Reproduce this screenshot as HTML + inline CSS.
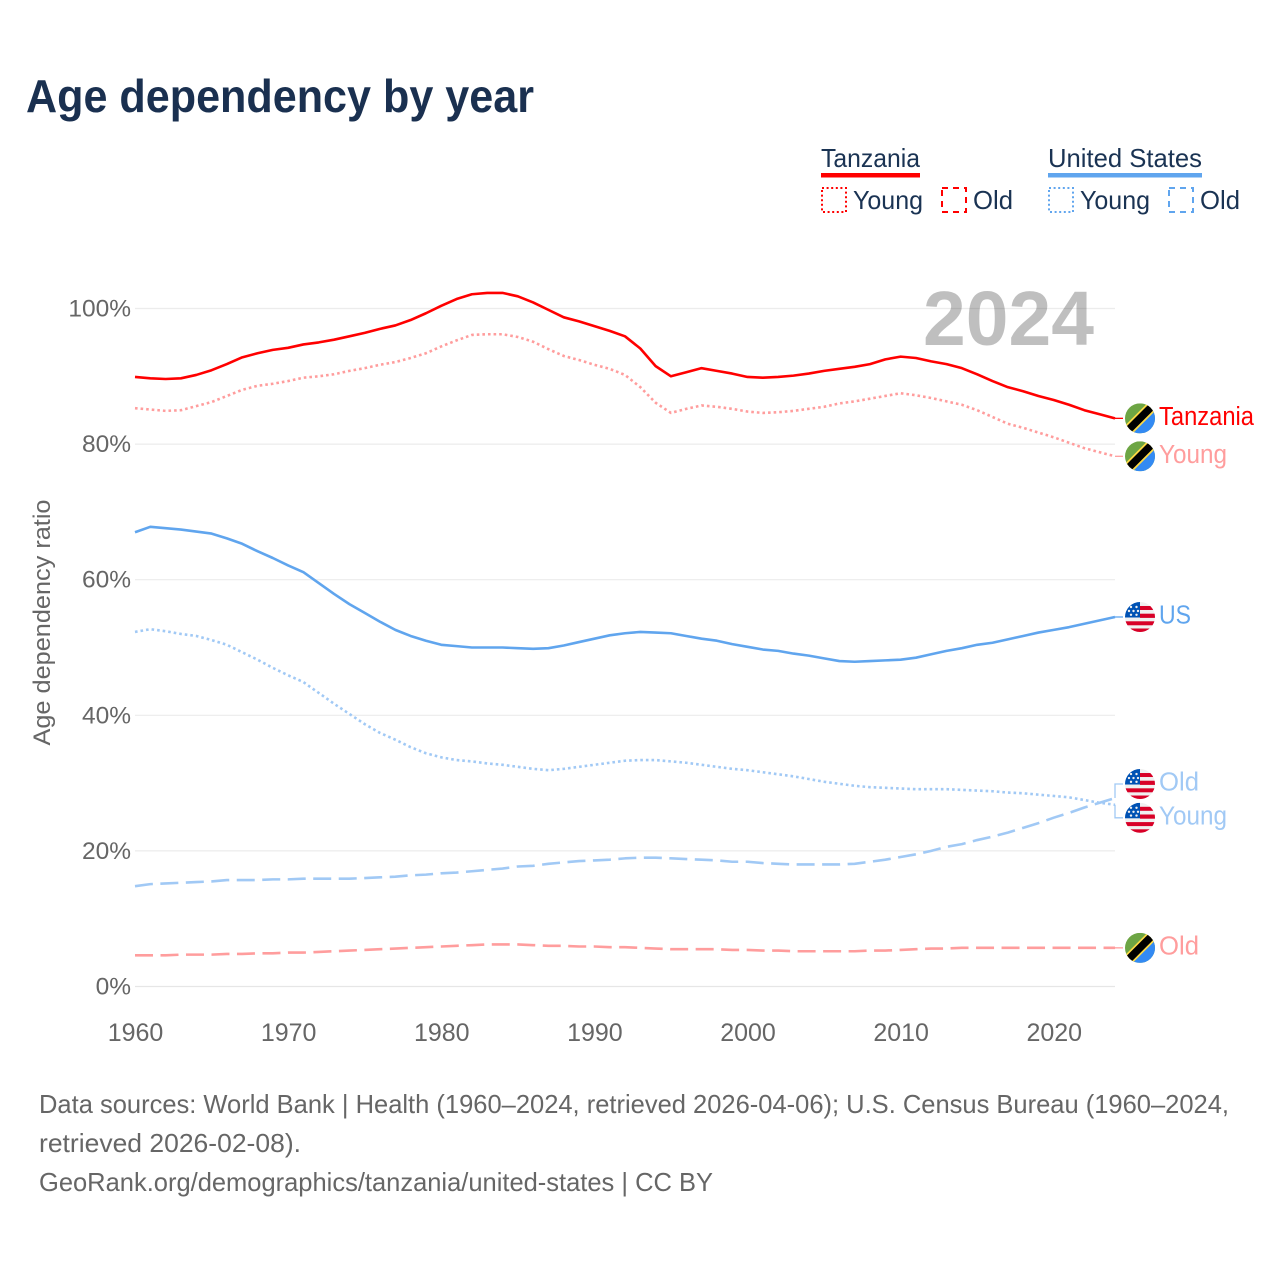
<!DOCTYPE html>
<html lang="en">
<head>
<meta charset="utf-8">
<title>Age dependency by year</title>
<style>
html,body{margin:0;padding:0;background:#fff;}
svg{display:block;font-family:"Liberation Sans",sans-serif;}
</style>
</head>
<body>
<svg id="chart" xmlns="http://www.w3.org/2000/svg" width="1280" height="1280" viewBox="0 0 1280 1280">
<defs>
<clipPath id="flag-clip"><circle cx="0" cy="0" r="15"/></clipPath>
<symbol id="flag-tz" overflow="visible" viewBox="-15 -15 30 30">
<g clip-path="url(#flag-clip)">
<rect x="-15" y="-15" width="30" height="30" fill="#6da544"/>
<polygon points="15,-15 15,15 -15,15" fill="#338af3"/>
<line x1="-15" y1="15" x2="15" y2="-15" stroke="#ffda44" stroke-width="11"/>
<line x1="-15" y1="15" x2="15" y2="-15" stroke="#000" stroke-width="7.5"/>
</g>
</symbol>
<symbol id="flag-us" overflow="visible" viewBox="-15 -15 30 30">
<g clip-path="url(#flag-clip)">
<rect x="-15" y="-15" width="30" height="30" fill="#f0f0f0"/>
<rect x="0" y="-11" width="15" height="4" fill="#d80027"/>
<rect x="0" y="-3.3" width="15" height="4.2" fill="#d80027"/>
<rect x="-15" y="4.3" width="30" height="4" fill="#d80027"/>
<rect x="-15" y="11.5" width="30" height="4" fill="#d80027"/>
<rect x="-15" y="-15" width="15" height="15.5" fill="#0052b4"/>
<g fill="#f0f0f0">
<circle cx="-9" cy="-10" r="1.2"/><circle cx="-3.5" cy="-10" r="1.2"/>
<circle cx="-6.5" cy="-6" r="1.2"/><circle cx="-2" cy="-6" r="1.2"/><circle cx="-11" cy="-6" r="1.2"/>
<circle cx="-9" cy="-2.2" r="1.2"/><circle cx="-3.5" cy="-2.2" r="1.2"/>
</g>
</g>
</symbol>
</defs>

<rect x="0" y="0" width="1280" height="1280" fill="#fff"/>
<text x="26" y="112" font-size="46" font-weight="700" fill="#1a3050" textLength="508" lengthAdjust="spacingAndGlyphs">Age dependency by year</text>

<g fill="#1a3353" font-size="26">
<text x="821" y="167" textLength="99" lengthAdjust="spacingAndGlyphs">Tanzania</text>
<rect x="821" y="173" width="99" height="4.5" fill="#ff0000"/>
<rect x="822" y="188" width="24" height="24" fill="none" stroke="#ff0000" stroke-width="2" stroke-dasharray="2 2.6"/>
<text x="853" y="209" textLength="70" lengthAdjust="spacingAndGlyphs">Young</text>
<rect x="942" y="188" width="24" height="24" fill="none" stroke="#ff0000" stroke-width="2" stroke-dasharray="6 5"/>
<text x="973" y="209" textLength="40" lengthAdjust="spacingAndGlyphs">Old</text>
<text x="1048" y="167" textLength="154" lengthAdjust="spacingAndGlyphs">United States</text>
<rect x="1048" y="173" width="154" height="4.5" fill="#60a5ee"/>
<rect x="1049" y="188" width="24" height="24" fill="none" stroke="#60a5ee" stroke-width="2" stroke-dasharray="2 2.6"/>
<text x="1080" y="209" textLength="70" lengthAdjust="spacingAndGlyphs">Young</text>
<rect x="1169" y="188" width="24" height="24" fill="none" stroke="#60a5ee" stroke-width="2" stroke-dasharray="6 5"/>
<text x="1200" y="209" textLength="40" lengthAdjust="spacingAndGlyphs">Old</text>
</g>

<g id="grid"></g>
<g id="yticks"></g>
<g id="xticks"></g>
<text transform="translate(50,622.5) rotate(-90)" text-anchor="middle" font-size="24.5" fill="#666" textLength="246" lengthAdjust="spacingAndGlyphs">Age dependency ratio</text>
<text x="923" y="345" font-size="77" font-weight="700" fill="#000" fill-opacity="0.25" textLength="171" lengthAdjust="spacingAndGlyphs">2024</text>
<g id="series"></g>
<g id="endlabels"></g>

<g font-size="26" fill="#666">
<text x="39" y="1113" textLength="1190" lengthAdjust="spacingAndGlyphs">Data sources: World Bank | Health (1960–2024, retrieved 2026-04-06); U.S. Census Bureau (1960–2024,</text>
<text x="39" y="1152" textLength="262" lengthAdjust="spacingAndGlyphs">retrieved 2026-02-08).</text>
<text x="39" y="1191" textLength="674" lengthAdjust="spacingAndGlyphs">GeoRank.org/demographics/tanzania/united-states | CC BY</text>
</g>
</svg>

<script>
const years = [1960,1961,1962,1963,1964,1965,1966,1967,1968,1969,1970,1971,1972,1973,1974,1975,1976,1977,1978,1979,1980,1981,1982,1983,1984,1985,1986,1987,1988,1989,1990,1991,1992,1993,1994,1995,1996,1997,1998,1999,2000,2001,2002,2003,2004,2005,2006,2007,2008,2009,2010,2011,2012,2013,2014,2015,2016,2017,2018,2019,2020,2021,2022,2023,2024];
const tanzaniaTotal = [89.9,89.7,89.6,89.7,90.2,90.9,91.8,92.8,93.4,93.9,94.2,94.7,95.0,95.4,95.9,96.4,97.0,97.5,98.3,99.3,100.4,101.4,102.1,102.3,102.3,101.8,100.9,99.8,98.7,98.1,97.4,96.7,95.9,94.1,91.5,90.0,90.6,91.2,90.8,90.4,89.9,89.8,89.9,90.1,90.4,90.8,91.1,91.4,91.8,92.5,92.9,92.7,92.2,91.8,91.2,90.3,89.3,88.4,87.8,87.1,86.5,85.8,85.0,84.4,83.8];
const tanzaniaYoung = [85.3,85.1,84.9,85.0,85.6,86.2,87.1,88.0,88.6,88.9,89.3,89.8,90.0,90.3,90.8,91.2,91.7,92.1,92.7,93.4,94.4,95.3,96.1,96.2,96.2,95.8,95.1,94.0,93.0,92.4,91.7,91.1,90.2,88.4,86.1,84.6,85.2,85.7,85.5,85.2,84.8,84.6,84.7,84.9,85.2,85.5,86.0,86.3,86.7,87.1,87.5,87.2,86.8,86.3,85.8,85.0,84.0,83.0,82.4,81.7,81.0,80.2,79.4,78.8,78.2];
const tanzaniaOld = [4.6,4.6,4.6,4.7,4.7,4.7,4.8,4.8,4.9,4.9,5.0,5.0,5.1,5.2,5.3,5.4,5.5,5.6,5.7,5.8,5.9,6.0,6.1,6.2,6.2,6.2,6.1,6.0,6.0,5.9,5.9,5.8,5.8,5.7,5.6,5.5,5.5,5.5,5.5,5.4,5.4,5.3,5.3,5.2,5.2,5.2,5.2,5.2,5.3,5.3,5.4,5.5,5.6,5.6,5.7,5.7,5.7,5.7,5.7,5.7,5.7,5.7,5.7,5.7,5.7];
const usTotal = [67.0,67.8,67.6,67.4,67.1,66.8,66.1,65.3,64.2,63.2,62.1,61.1,59.5,57.9,56.4,55.1,53.8,52.6,51.7,51.0,50.4,50.2,50.0,50.0,50.0,49.9,49.8,49.9,50.3,50.8,51.3,51.8,52.1,52.3,52.2,52.1,51.7,51.3,51.0,50.5,50.1,49.7,49.5,49.1,48.8,48.4,48.0,47.9,48.0,48.1,48.2,48.5,49.0,49.5,49.9,50.4,50.7,51.2,51.7,52.2,52.6,53.0,53.5,54.0,54.5];
const usYoung = [52.3,52.7,52.4,52.0,51.7,51.1,50.4,49.3,48.2,47.0,45.9,44.9,43.3,41.7,40.2,38.7,37.4,36.4,35.3,34.4,33.8,33.4,33.2,32.9,32.7,32.4,32.1,31.9,32.1,32.4,32.7,33.0,33.3,33.4,33.4,33.2,33.0,32.7,32.4,32.1,31.9,31.6,31.3,31.0,30.6,30.2,29.9,29.6,29.4,29.3,29.2,29.1,29.1,29.1,29.0,28.9,28.8,28.6,28.5,28.3,28.1,27.9,27.5,27.1,26.8];
const usOld = [14.8,15.1,15.2,15.3,15.4,15.5,15.7,15.7,15.7,15.8,15.8,15.9,15.9,15.9,15.9,16.0,16.1,16.2,16.4,16.5,16.7,16.8,17.0,17.2,17.4,17.7,17.8,18.1,18.3,18.5,18.6,18.7,18.9,19.0,19.0,18.9,18.8,18.7,18.6,18.4,18.4,18.2,18.1,18.0,18.0,18.0,18.0,18.1,18.4,18.7,19.1,19.5,20.0,20.6,21.0,21.6,22.1,22.7,23.4,24.1,24.9,25.6,26.4,27.1,27.8];
const yTickValues = [0,20,40,60,80,100];
const xTickValues = [1960,1970,1980,1990,2000,2010,2020];

const NS = 'http://www.w3.org/2000/svg';
function xScale(year){ return 135 + (year - 1960) * (980 / 64); }
function yScale(value){ return 986.5 - value * 6.78; }
function make(tag, attrs, parent){
  const el = document.createElementNS(NS, tag);
  for (const k in attrs) el.setAttribute(k, attrs[k]);
  parent.appendChild(el);
  return el;
}

const gridG = document.getElementById('grid');
const yG = document.getElementById('yticks');
yTickValues.forEach(function(v){
  const line = make('line', {x1:135, x2:1115, y1:yScale(v), y2:yScale(v), stroke:v === 0 ? '#e6e6e6' : '#ececec', 'stroke-width':1.2}, gridG);
  
  
  const label = make('text', {x:131, y:yScale(v) + 8, 'text-anchor':'end', 'font-size':24.5, fill:'#666'}, yG);
  
  
  label.textContent = v + '%';
});

const xG = document.getElementById('xticks');
xTickValues.forEach(function(t){
  const label = make('text', {x:xScale(t) + 0.5, y:1041, 'text-anchor':'middle', 'font-size':25, fill:'#666'}, xG);
  
  
  label.textContent = t;
});

const seriesG = document.getElementById('series');
function drawLine(name, values, color, dash){
  const pts = values.map(function(v, i){ return xScale(years[i]).toFixed(2) + ',' + yScale(v).toFixed(2); }).join(' ');
  const attrs = {points:pts, fill:'none', stroke:color, 'stroke-width':2.6, 'stroke-linejoin':'round'};
  if (dash) attrs['stroke-dasharray'] = dash;
  const el = make('polyline', attrs, seriesG);
  
  
}
const RED = '#ff0000', RED_L = '#ff9d9d', BLUE = '#60a5ee', BLUE_L = '#a1c9f5';
const DOT = '2.6 3', DASH = '18 7.5';
drawLine('line-tanzania-old', tanzaniaOld, RED_L, DASH);
drawLine('line-us-old', usOld, BLUE_L, DASH);
drawLine('line-us-young', usYoung, BLUE_L, DOT);
drawLine('line-tanzania-young', tanzaniaYoung, RED_L, DOT);
drawLine('line-us-total', usTotal, BLUE, null);
drawLine('line-tanzania-total', tanzaniaTotal, RED, null);

const endG = document.getElementById('endlabels');
function endLabel(name, text, values, flag, color, nudge, width){
  const y0 = yScale(values[values.length - 1]);
  const y1 = y0 + nudge;
  const conn = make('path', {d:'M1115 ' + y0 + ' L1115 ' + y1 + ' L1123 ' + y1, fill:'none', stroke:color, 'stroke-width':1.3}, endG);
  
  
  const icon = make('use', {href:'#' + flag, x:1125, y:y1 - 15, width:30, height:30}, endG);
  
  
  const label = make('text', {x:1159, y:y1 + 6.5, 'font-size':25.5, fill:color, textLength:width, lengthAdjust:'spacingAndGlyphs'}, endG);
  
  
  label.textContent = text;
}
endLabel('end-tanzania', 'Tanzania', tanzaniaTotal, 'flag-tz', RED, 0, 95);
endLabel('end-tanzania-young', 'Young', tanzaniaYoung, 'flag-tz', RED_L, 0, 68);
endLabel('end-us', 'US', usTotal, 'flag-us', BLUE, 0, 32);
endLabel('end-us-old', 'Old', usOld, 'flag-us', BLUE_L, -14, 40);
endLabel('end-us-young', 'Young', usYoung, 'flag-us', BLUE_L, 13, 68);
endLabel('end-tanzania-old', 'Old', tanzaniaOld, 'flag-tz', RED_L, 0, 40);
</script>
</body>
</html>
